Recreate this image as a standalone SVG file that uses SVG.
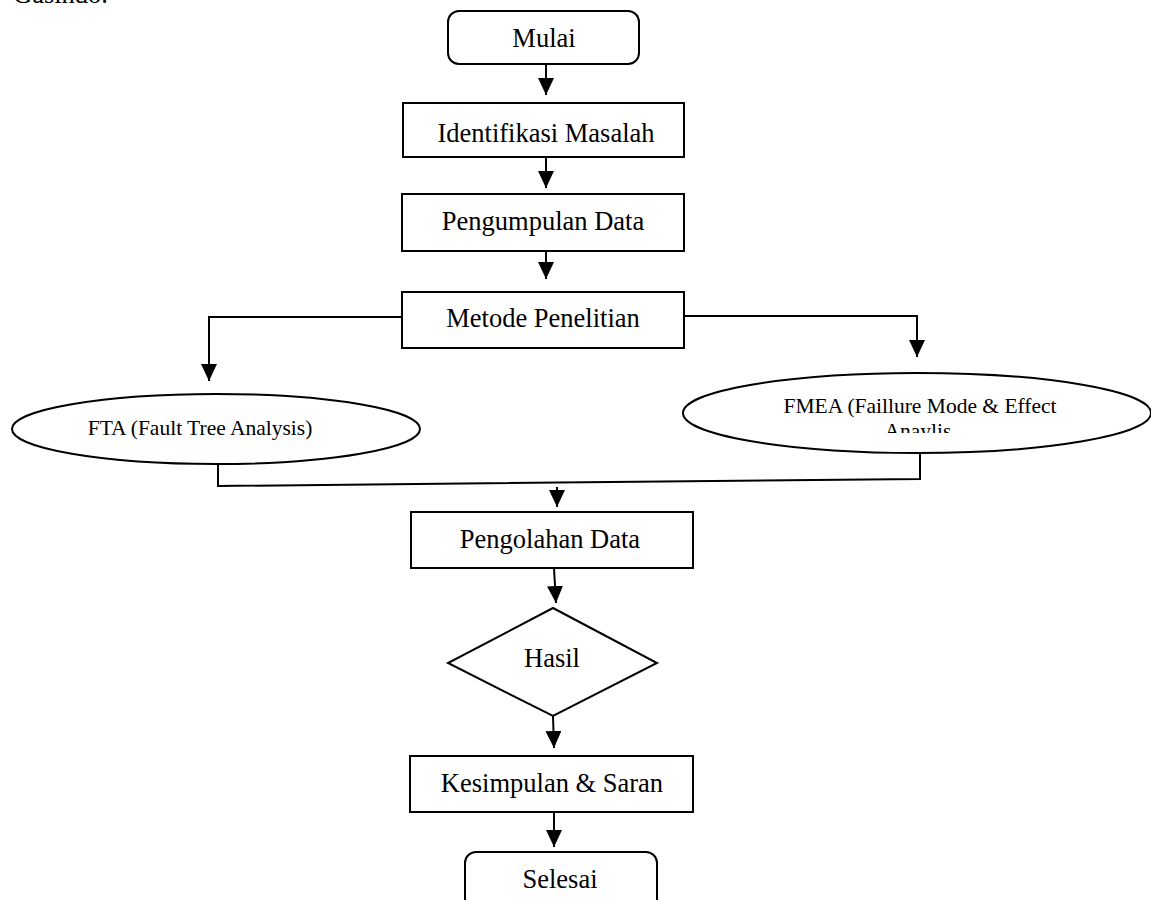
<svg xmlns="http://www.w3.org/2000/svg" width="1151" height="900" viewBox="0 0 1151 900">
<style>
.box{fill:#fff;stroke:#000;stroke-width:2}
.t{font-family:"Liberation Serif","Times New Roman",serif;font-size:26.5px;fill:#000;text-anchor:middle}
.s{font-family:"Liberation Serif","Times New Roman",serif;font-size:21.5px;fill:#000;text-anchor:middle}
.c{fill:none;stroke:#000;stroke-width:2}
</style>
<defs>
<marker id="ah" markerUnits="userSpaceOnUse" viewBox="0 0 17 16" refX="17" refY="8" markerWidth="17" markerHeight="16" orient="auto">
<path d="M0,0 L17,8 L0,16 z" fill="#000"/>
</marker>
<clipPath id="fmclip"><rect x="680" y="370" width="471" height="63"/></clipPath>
</defs>
<rect width="1151" height="900" fill="#fff"/>
<text class="t" x="13" y="3" style="text-anchor:start">Gasindo.</text>
<g id="connectors">
<path class="c" d="M546,64 V95" marker-end="url(#ah)"/>
<path class="c" d="M546,157 V188" marker-end="url(#ah)"/>
<path class="c" d="M546,251 V279" marker-end="url(#ah)"/>
<path class="c" d="M402,317 H209 V381" marker-end="url(#ah)"/>
<path class="c" d="M684,316 H917 V357" marker-end="url(#ah)"/>
<path class="c" d="M218,464 V486 L920,479 V453"/>
<path class="c" d="M557,487 V507" marker-end="url(#ah)"/>
<path class="c" d="M554,568 L556,603" marker-end="url(#ah)"/>
<path class="c" d="M553,716 L554,748" marker-end="url(#ah)"/>
<path class="c" d="M554,812 V847" marker-end="url(#ah)"/>
</g>
<g id="mulai">
<rect class="box" x="448" y="11" width="191" height="53" rx="11"/>
<text class="t" x="544" y="47">Mulai</text>
</g>
<g id="identifikasi">
<rect class="box" x="403" y="103" width="281" height="54"/>
<text class="t" x="546" y="142">Identifikasi Masalah</text>
</g>
<g id="pengumpulan">
<rect class="box" x="402" y="194" width="282" height="57"/>
<text class="t" x="543" y="230">Pengumpulan Data</text>
</g>
<g id="metode">
<rect class="box" x="402" y="292" width="282" height="56"/>
<text class="t" x="543" y="327">Metode Penelitian</text>
</g>
<g id="fta">
<ellipse class="box" cx="216" cy="429" rx="204" ry="35"/>
<text class="s" x="200" y="435">FTA (Fault Tree Analysis)</text>
</g>
<g id="fmea">
<ellipse class="box" cx="917" cy="413" rx="234" ry="40"/>
<text class="s" x="920" y="413">FMEA (Faillure Mode &amp; Effect</text>
<text class="s" x="918" y="438" clip-path="url(#fmclip)">Anaylis</text>
</g>
<g id="pengolahan">
<rect class="box" x="411" y="512" width="282" height="56"/>
<text class="t" x="550" y="548">Pengolahan Data</text>
</g>
<g id="hasil">
<polygon class="box" points="553,608 657,663 553,716 448,663"/>
<text class="t" x="552" y="667">Hasil</text>
</g>
<g id="kesimpulan">
<rect class="box" x="410" y="756" width="283" height="56"/>
<text class="t" x="552" y="792">Kesimpulan &amp; Saran</text>
</g>
<g id="selesai">
<rect class="box" x="465" y="852" width="192" height="62" rx="11"/>
<text class="t" x="560" y="888">Selesai</text>
</g>
</svg>
